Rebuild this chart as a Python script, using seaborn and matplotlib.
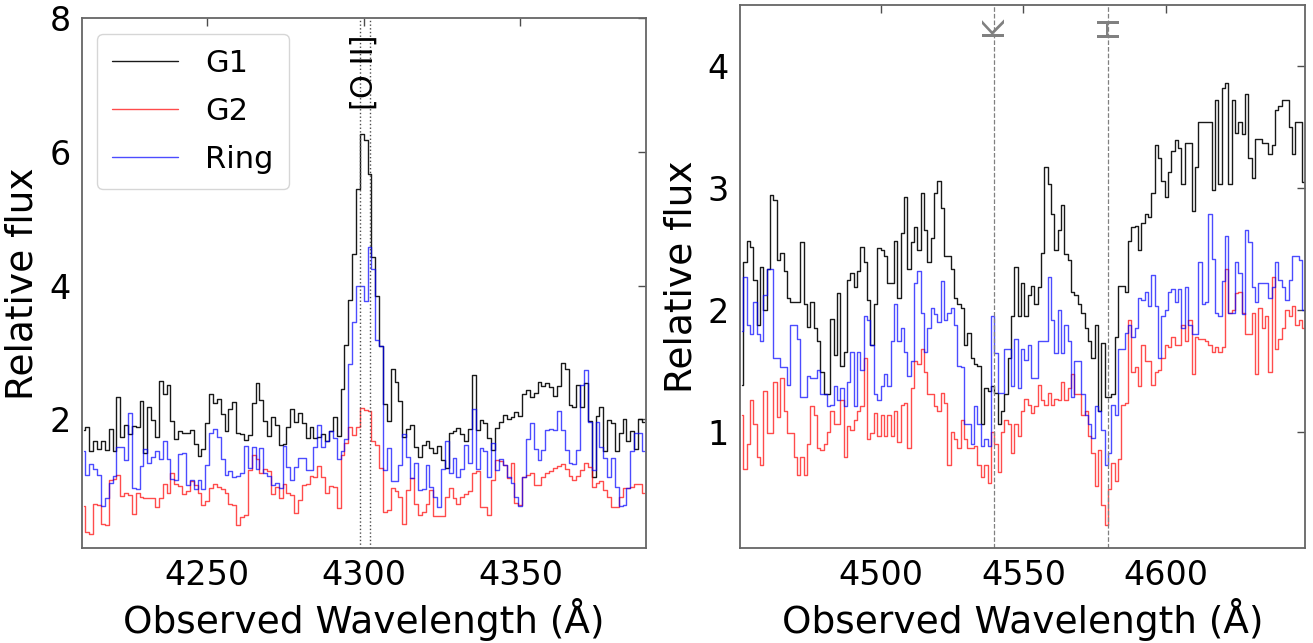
import numpy as np
import pandas as pd
import matplotlib
matplotlib.use("Agg")
import matplotlib.pyplot as plt
import seaborn as sns

# ---------------- data: left panel ([O II] region) ----------------
left_g1 = [1.84, 1.88, 1.53, 1.67, 1.55, 1.68, 1.54, 1.85, 1.52, 2.33,
           1.74, 1.92, 1.78, 1.90, 1.88, 2.28, 1.50, 2.18, 1.99, 1.74,
           2.57, 2.38, 2.51, 1.98, 1.70, 1.82, 1.79, 1.80, 1.84, 1.63,
           1.45, 1.56, 1.94, 2.38, 2.24, 2.30, 2.08,
           1.82, 2.16, 2.26, 1.80, 1.78, 1.69, 1.77, 2.24, 2.55, 2.29,
           1.98, 1.75, 2.04, 1.91, 1.62, 1.63, 1.89, 2.15, 1.96, 2.09,
           1.94, 1.72, 1.88, 1.72, 1.74, 1.78, 1.68, 1.83, 2.04, 1.75, 2.46,
           3.11, 3.78, 4.47, 5.45, 6.27, 6.18, 5.67,
           4.43, 3.84, 3.10, 2.23, 1.98, 2.75, 2.56, 2.28, 1.74, 1.85,
           1.91, 1.59, 1.44, 1.62, 1.68, 1.57, 1.50, 1.60, 1.39, 1.27,
           1.79, 1.82, 1.87, 1.78, 1.67, 1.85, 2.66, 1.84, 1.99, 1.94,
           1.72, 1.54, 1.87, 1.96, 2.07, 2.00, 2.04, 2.11, 2.05, 2.38,
           2.44, 2.34, 2.40, 2.56, 2.50, 2.55, 2.49, 2.35, 2.50, 2.84,
           2.75, 2.21, 2.19, 2.51, 2.18, 2.54, 1.97, 1.14, 2.05, 2.18,
           1.52, 1.99, 1.94, 1.52, 1.79, 2.00, 1.68, 1.82, 1.55, 2.00, 1.96]

left_g2 = [0.70, 0.32, 0.28, 0.73, 0.72, 0.44, 0.42, 1.09, 1.10, 1.17,
           0.85, 0.90, 0.87, 0.59, 0.90, 0.84, 0.82, 0.83, 0.82, 0.69,
           0.82, 1.03, 0.89, 1.19, 1.03, 1.00, 0.88, 0.92, 1.07, 1.02,
           0.89, 0.72, 0.78, 0.97, 1.03, 0.98, 0.96,
           0.90, 0.74, 0.72, 0.42, 0.54, 0.57, 1.24, 1.47, 1.40, 1.19,
           1.25, 1.23, 0.88, 0.99, 0.82, 1.03, 0.89, 0.87, 0.60, 0.79,
           1.02, 1.03, 1.15, 1.13, 1.30, 1.13, 0.89, 1.00, 0.99, 0.67, 1.46,
           1.64, 1.89, 1.77, 1.88, 2.17, 2.14, 2.13,
           1.68, 1.62, 1.27, 0.62, 0.65, 0.97, 0.92, 0.84, 0.44, 0.94,
           1.12, 0.73, 0.57, 0.62, 0.74, 0.94, 0.55, 0.55, 0.55, 0.84,
           0.97, 0.82, 0.74, 0.84, 0.88, 0.93, 1.19, 1.22, 0.69, 0.69,
           0.57, 1.09, 1.39, 1.37, 1.32, 1.12, 1.35, 0.75, 0.72, 1.14,
           1.17, 1.19, 1.02, 1.02, 1.13, 1.19, 1.23, 1.27, 1.30, 1.33,
           1.25, 1.15, 1.09, 1.15, 1.24, 1.34, 1.28, 0.99, 1.04, 1.07,
           0.94, 0.84, 0.69, 0.69, 0.84, 0.97, 0.97, 0.99, 1.03, 1.03, 0.89]

left_ring = [1.52, 1.17, 1.33, 1.25, 1.17, 0.70, 0.82, 1.04, 1.15, 1.58,
             1.59, 1.39, 2.09, 0.97, 0.95, 1.30, 1.55, 1.35, 1.43, 1.53,
             1.40, 1.68, 1.40, 1.10, 1.09, 1.48, 1.49, 1.02, 1.09, 0.95,
             1.09, 0.95, 1.32, 1.79, 1.85, 1.74, 1.40,
             1.17, 1.22, 1.13, 1.15, 1.19, 1.60, 1.27, 1.58, 1.25, 1.57,
             1.19, 1.15, 1.02, 1.05, 0.97, 1.60, 1.29, 1.09, 1.29, 1.42,
             1.42, 1.24, 1.24, 1.59, 1.92, 1.58, 1.68, 1.83, 1.72, 1.40, 1.53,
             1.70, 2.83, 3.46, 4.00, 4.00, 3.77, 4.58,
             4.25, 3.19, 3.10, 1.24, 1.57, 1.08, 1.08, 1.32, 1.78, 1.44,
             1.12, 1.34, 0.94, 0.95, 1.32, 0.99, 0.84, 0.69, 1.25, 1.68,
             1.19, 1.42, 1.14, 1.25, 1.62, 1.35, 2.16, 1.25, 1.57, 1.52,
             1.14, 1.65, 1.24, 1.41, 1.32, 1.14, 1.04, 0.84, 0.70, 1.14,
             1.71, 1.94, 1.55, 1.39, 1.54, 1.84, 1.85, 1.84, 2.13, 1.84,
             1.54, 1.34, 1.33, 1.54, 2.51, 2.74, 1.96, 1.24, 1.96, 1.59,
             1.42, 1.14, 1.42, 0.98, 0.70, 0.72, 0.97, 1.52, 1.80, 1.79, 1.52]

left_range = (4210.6, 4389.4)
oii_lines = [4298.7, 4301.9]

# ---------------- data: right panel (Ca H & K region) ----------------
right_g1 = [1.39, 2.39, 2.57, 2.52, 2.25, 1.88, 2.35, 2.00, 2.34, 2.94,
            2.90, 2.41, 2.47, 2.32, 2.10, 2.07, 2.07, 2.07, 2.56, 2.05,
            1.86, 2.07, 1.85, 1.75, 1.49, 1.31, 1.31, 1.93, 1.63, 2.14,
            1.54, 1.66, 2.25, 2.30, 2.19, 2.32, 2.52, 2.39, 2.08, 1.71,
            2.05, 2.51, 2.49, 2.44, 2.22, 2.22, 2.57, 2.10, 2.63, 2.93,
            2.34, 2.56, 2.68, 2.49, 2.96, 2.66, 2.39, 2.59, 2.96, 3.06,
            2.84, 2.44, 2.44, 2.34, 2.10, 2.05, 2.02, 1.71, 1.81, 1.61,
            1.56, 1.54, 1.07, 1.36, 1.34, 1.38, 1.32, 1.07, 1.17, 1.31,
            1.61, 1.95, 2.35, 1.95, 2.22, 1.95, 2.12, 2.20, 2.05, 2.19,
            2.47, 3.17, 3.03, 2.79, 2.49, 2.66, 2.86, 2.46, 2.41, 2.15,
            2.12, 2.05, 1.98, 1.85, 1.75, 1.61, 1.88, 1.17, 1.73, 1.29,
            1.29, 1.31, 1.78, 2.20, 2.20, 2.15, 2.57, 2.68, 2.69, 2.49,
            2.71, 2.79, 2.76, 2.96, 3.35, 3.25, 3.06, 2.93, 3.13, 3.30,
            3.39, 3.33, 3.03, 3.37, 3.37, 2.81, 3.17, 3.54, 3.54, 3.54,
            3.54, 2.98, 3.72, 3.03, 3.82, 3.86, 3.03, 3.72, 3.45, 3.54,
            3.44, 3.77, 3.25, 3.08, 3.40, 3.40, 3.37, 3.37, 3.28, 3.35,
            3.64, 3.67, 3.72, 3.72, 3.50, 3.28, 3.54, 3.54, 3.05]

right_g2 = [1.14, 0.70, 0.90, 1.26, 1.07, 0.80, 0.73, 1.34, 0.99, 0.99,
            1.41, 1.12, 1.44, 1.17, 0.99, 0.99, 0.80, 0.65, 0.80, 0.65,
            0.90, 1.21, 1.14, 0.87, 0.85, 0.90, 1.00, 1.17, 1.07, 1.07,
            1.26, 0.80, 1.05, 1.02, 1.10, 1.17, 1.21, 1.61, 0.94, 0.99,
            1.16, 0.97, 1.14, 0.97, 1.14, 0.97, 1.17, 0.92, 1.22, 1.24,
            0.87, 1.36, 1.58, 1.56, 1.68, 1.49, 1.31, 1.31, 1.21, 1.17,
            1.32, 1.24, 0.73, 1.00, 0.94, 0.87, 1.10, 0.94, 0.87, 0.87,
            0.89, 0.73, 0.63, 0.73, 0.58, 1.00, 0.90, 0.67, 1.00, 1.10,
            1.07, 0.83, 1.07, 0.97, 1.17, 1.27, 1.22, 1.16, 1.21, 1.39,
            1.26, 1.22, 1.32, 1.22, 1.27, 1.26, 1.41, 1.26, 1.36, 1.48,
            1.31, 1.31, 1.14, 1.17, 0.97, 0.83, 0.56, 0.85, 0.40, 0.24,
            0.53, 0.75, 0.60, 0.78, 1.22, 1.24, 1.92, 1.49, 1.53, 1.38,
            1.71, 1.58, 1.58, 1.39, 1.49, 1.51, 1.61, 1.71, 1.70, 1.78,
            1.71, 1.71, 1.88, 1.75, 1.92, 1.48, 1.78, 1.76, 1.76, 1.75,
            1.71, 1.66, 1.70, 1.66, 1.70, 2.34, 1.98, 2.00, 2.14, 2.15,
            1.98, 1.80, 1.80, 1.98, 1.48, 2.02, 1.85, 1.95, 1.49, 2.27,
            1.68, 1.76, 1.85, 2.00, 1.95, 2.03, 1.88, 1.92, 1.85]

right_ring = [1.83, 2.27, 1.88, 1.80, 2.07, 1.80, 1.75, 2.12, 2.34, 2.34,
              1.61, 1.61, 1.53, 1.53, 1.39, 1.88, 1.88, 1.76, 1.29, 1.29,
              1.46, 1.44, 1.44, 1.51, 1.31, 1.31, 1.21, 1.22, 1.38, 1.26,
              1.36, 1.21, 1.41, 1.66, 1.21, 1.66, 1.51, 1.95, 1.92, 1.71,
              1.31, 1.26, 1.38, 1.48, 1.38, 1.75, 2.05, 1.75, 1.85, 1.66,
              1.46, 1.58, 2.22, 2.32, 1.98, 1.66, 1.85, 2.02, 1.97, 1.90,
              2.24, 1.92, 1.98, 2.02, 1.88, 1.54, 1.53, 1.07, 1.07, 0.90,
              1.21, 1.07, 0.89, 0.94, 0.89, 1.95, 1.65, 1.32, 1.32, 1.68,
              1.68, 1.38, 1.76, 1.36, 1.68, 1.59, 1.71, 1.44, 1.44, 1.75,
              1.75, 1.75, 2.27, 1.92, 1.65, 2.00, 1.65, 1.88, 1.75, 1.29,
              1.58, 1.58, 1.31, 1.14, 1.07, 0.95, 1.21, 1.17, 1.02, 0.73,
              0.83, 1.22, 1.14, 1.68, 1.68, 1.81, 1.88, 1.78, 1.85, 2.10,
              2.08, 2.15, 2.03, 2.29, 2.03, 1.61, 1.95, 2.00, 2.15, 2.17,
              2.07, 2.17, 1.85, 2.19, 1.88, 1.80, 1.80, 2.39, 2.05, 2.07,
              2.79, 2.42, 1.98, 1.95, 2.24, 2.61, 1.98, 1.98, 2.39, 2.30,
              1.97, 2.66, 2.56, 2.19, 2.07, 2.22, 2.22, 2.22, 2.10, 2.19,
              2.39, 2.25, 2.19, 2.08, 2.25, 2.44, 2.44, 2.41, 2.00]

right_range = (4451.2, 4648.2)
cak_line = 4539.5
cah_line = 4579.7

series_names = ["G1", "G2", "Ring"]
series_colors = {"G1": "black", "G2": "red", "Ring": "blue"}
series_alpha = {"G1": 0.9, "G2": 0.7, "Ring": 0.7}


def to_frame(values, wl_range, name):
    wl = np.linspace(wl_range[0], wl_range[1], len(values))
    return pd.DataFrame({"wavelength": wl, "flux": values, "series": name})


sns.set_theme(style="white")
plt.rcParams["font.family"] = ["DejaVu Sans"]
plt.rcParams["text.color"] = "black"
plt.rcParams["axes.labelcolor"] = "black"
plt.rcParams["xtick.color"] = "black"
plt.rcParams["ytick.color"] = "black"
plt.rcParams["xtick.labelcolor"] = "black"
plt.rcParams["ytick.labelcolor"] = "black"

fig = plt.figure(figsize=(13.13, 6.43), dpi=100)
axL = fig.add_axes([0.0622, 0.1473, 0.4296, 0.8240])
axR = fig.add_axes([0.5636, 0.1477, 0.4303, 0.8445])

left_data = {"G1": left_g1, "G2": left_g2, "Ring": left_ring}
right_data = {"G1": right_g1, "G2": right_g2, "Ring": right_ring}

for name in series_names:
    df = to_frame(left_data[name], left_range, name)
    sns.lineplot(data=df, x="wavelength", y="flux", ax=axL,
                 color=series_colors[name], alpha=series_alpha[name],
                 lw=1.0, drawstyle="steps-mid", label=name,
                 estimator=None, sort=False)
for name in series_names:
    df = to_frame(right_data[name], right_range, name)
    sns.lineplot(data=df, x="wavelength", y="flux", ax=axR,
                 color=series_colors[name], alpha=series_alpha[name],
                 lw=1.0, drawstyle="steps-mid", legend=False,
                 estimator=None, sort=False)

for wl in oii_lines:
    axL.axvline(wl, color="0.3", ls=":", lw=1.0)
axL.text(4300.3, 7.2, "[O II]", rotation=90, ha="center", va="center",
         fontsize=22, color="black")

for wl, lab in [(cak_line, "K"), (cah_line, "H")]:
    axR.axvline(wl, color="0.5", ls="--", lw=0.9)
    axR.text(wl, 4.33, lab, rotation=90, ha="center", va="center",
             fontsize=22, color="0.5")

axL.set_xlim(4210, 4390)
axL.set_ylim(0.07, 8)
axL.set_xticks([4250, 4300, 4350])
axL.set_yticks([2, 4, 6, 8])

axR.set_xlim(4450.6, 4648.7)
axR.set_ylim(0.05, 4.5)
axR.set_xticks([4500, 4550, 4600])
axR.set_yticks([1, 2, 3, 4])

for ax in (axL, axR):
    ax.set_xlabel("Observed Wavelength (Å)", fontsize=27, color="black")
    ax.set_ylabel("Relative flux", fontsize=27, color="black", labelpad=6)
    ax.tick_params(axis="both", which="major", direction="in", length=6,
                   width=1, top=True, right=True, labelsize=24,
                   color="0.3", labelcolor="black", pad=8)
    for sp in ax.spines.values():
        sp.set_edgecolor("0.4")
        sp.set_linewidth(1.3)

leg = axL.legend(loc="upper left", fontsize=22, frameon=True,
                 handlelength=2.15, borderpad=0.5, labelspacing=0.62,
                 handletextpad=0.9)
leg.get_frame().set_edgecolor("0.8")
for line in leg.get_lines():
    line.set_linewidth(1.0)
for t in leg.get_texts():
    t.set_color("black")

fig.savefig("out.png", dpi=100)
